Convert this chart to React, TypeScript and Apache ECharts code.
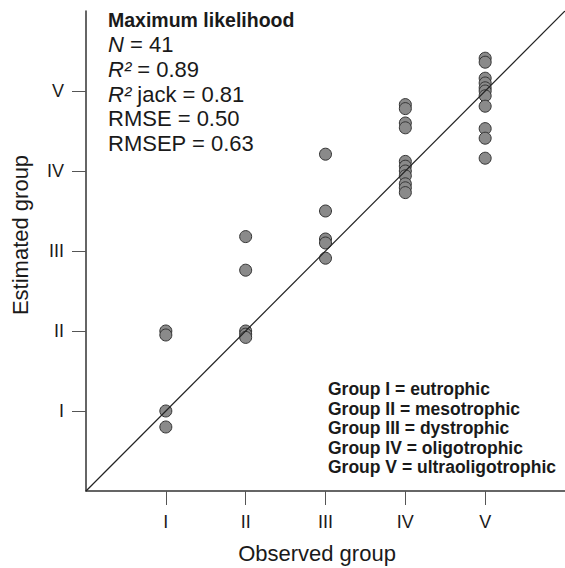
import React, { useEffect, useRef } from "react";
import * as echarts from "echarts";

const groupLabels = ["I", "II", "III", "IV", "V"];
const observedI = [2.0, 1.95, 1.0, 0.8];
const observedII = [3.18, 2.76, 2.0, 1.96, 1.92];
const observedIII = [4.21, 3.5, 3.15, 3.1, 2.91];
const observedIV = [4.83, 4.78, 4.6, 4.54, 4.12, 4.06, 4.0, 3.94, 3.84, 3.79, 3.73];
const observedV = [5.41, 5.36, 5.16, 5.1, 5.04, 5.0, 4.94, 4.81, 4.53, 4.41, 4.16];
const statLines = [
  "{b|Maximum likelihood}",
  "{i|N} = 41",
  "{i|R²} = 0.89",
  "{i|R²} jack = 0.81",
  "RMSE = 0.50",
  "RMSEP = 0.63",
];
const legendLines = [
  "Group I = eutrophic",
  "Group II = mesotrophic",
  "Group III = dystrophic",
  "Group IV = oligotrophic",
  "Group V = ultraoligotrophic",
];

const FONT = "'Liberation Sans', Arial, Helvetica, sans-serif";

export default function App() {
  const ref = useRef<HTMLDivElement>(null);
  useEffect(() => {
    if (!ref.current) return;
    const chart = echarts.init(ref.current, undefined, { renderer: "svg" });
    const cols = [observedI, observedII, observedIII, observedIV, observedV];
    const points: number[][] = [];
    cols.forEach((vals, i) => vals.forEach((v) => points.push([i + 1, v])));

    const statCenters = [19.5, 44.5, 69.5, 94, 118.5, 143];
    const graphics: any[] = [];
    statLines.forEach((t, k) => {
      graphics.push({
        type: "text",
        x: 108,
        y: statCenters[k],
        style: {
          text: t,
          font: `22px ${FONT}`,
          fill: "#1a1a1a",
          verticalAlign: "middle",
          rich: {
            b: { fontWeight: "bold", fontSize: 19.5, fontFamily: FONT, fill: "#1a1a1a" },
            i: { fontStyle: "italic", fontSize: 22, fontFamily: FONT, fill: "#1a1a1a" },
          },
        },
      });
    });
    legendLines.forEach((t, k) => {
      graphics.push({
        type: "text",
        x: 328,
        y: 389 + k * 19.5,
        style: { text: t, font: `bold 17.5px ${FONT}`, fill: "#1a1a1a", verticalAlign: "middle" },
      });
    });
    graphics.push({
      type: "text",
      x: 317,
      y: 553,
      style: { text: "Observed group", font: `22px ${FONT}`, fill: "#1a1a1a", align: "center", verticalAlign: "middle" },
    });
    graphics.push({
      type: "text",
      x: 20,
      y: 235,
      rotation: Math.PI / 2,
      style: { text: "Estimated group", font: `22px ${FONT}`, fill: "#1a1a1a", align: "center", verticalAlign: "middle" },
    });

    const axisCommon = {
      type: "value",
      min: 0,
      max: 6,
      interval: 1,
      axisLine: { show: true, lineStyle: { color: "#333", width: 1.5 } },
      axisTick: { show: true, length: 14, customValues: [1, 2, 3, 4, 5], lineStyle: { color: "#555", width: 1 } },
      axisLabel: {
        customValues: [1, 2, 3, 4, 5],
        formatter: (v: number) => groupLabels[Math.round(v) - 1] ?? "",
        fontSize: 18,
        fontFamily: FONT,
        color: "#1a1a1a",
      },
      splitLine: { show: false },
    };

    chart.setOption({
      animation: false,
      backgroundColor: "#fff",
      grid: { left: 86, right: -2, top: 11, bottom: 77 },
      xAxis: { ...axisCommon, axisLabel: { ...axisCommon.axisLabel, margin: 22 } },
      yAxis: { ...axisCommon, axisLabel: { ...axisCommon.axisLabel, margin: 22 } },
      series: [
        {
          type: "line",
          data: [[0, 0], [6, 6]],
          showSymbol: false,
          symbol: "none",
          lineStyle: { color: "#222", width: 1.2 },
          silent: true,
          z: 3,
        },
        {
          type: "scatter",
          data: points,
          symbol: "circle",
          symbolSize: 12,
          itemStyle: { color: "#8a8a8a", borderColor: "#333", borderWidth: 1, opacity: 1 },
          z: 2,
        },
      ],
      graphic: graphics,
    });
    return () => chart.dispose();
  }, []);
  return <div ref={ref} style={{ position: "absolute", left: 0, top: 0, width: 565, height: 568 }} />;
}
